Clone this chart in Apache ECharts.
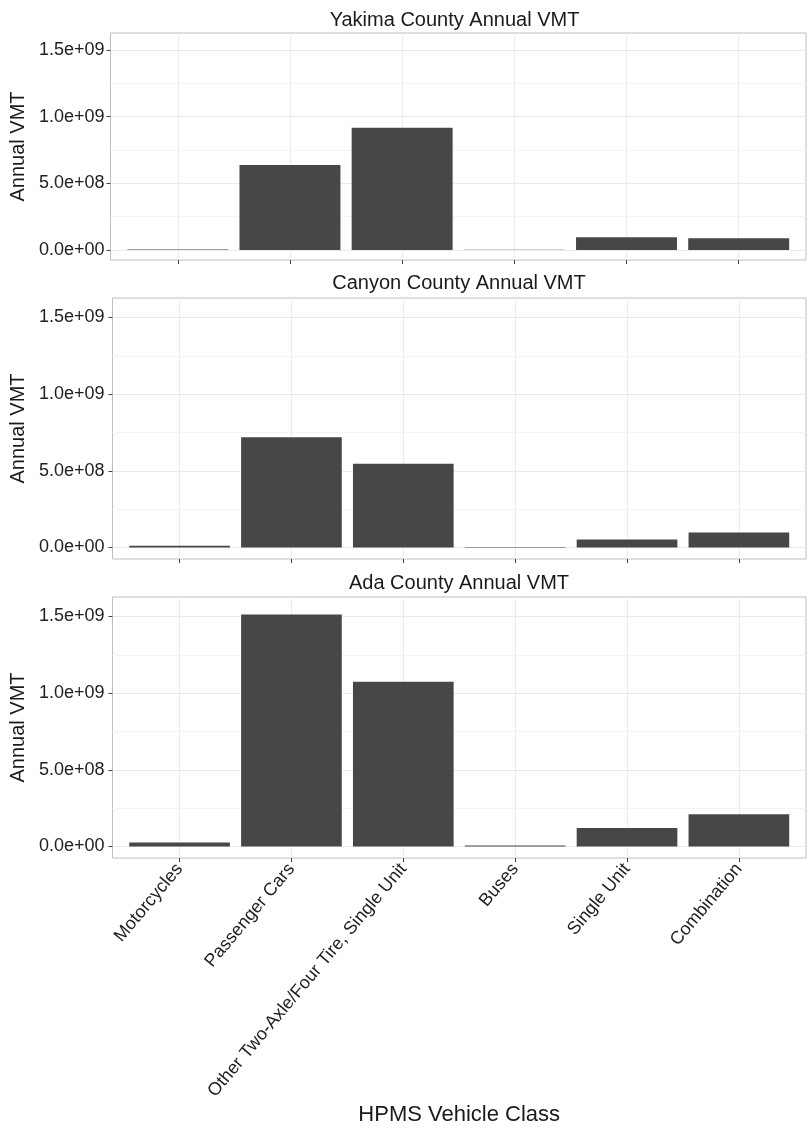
<!DOCTYPE html>
<html>
<head>
<meta charset="utf-8">
<script src="https://cdn.jsdelivr.net/npm/echarts@6/dist/echarts.min.js"></script>
<style>
  html, body { margin: 0; padding: 0; background: #ffffff; }
  #chart { width: 807px; height: 1129px; }
</style>
</head>
<body>
<div id="chart"></div>
<script>
// ---- data ----
const categories = ['Motorcycles', 'Passenger Cars', 'Other Two-Axle/Four Tire, Single Unit', 'Buses', 'Single Unit', 'Combination'];
const panelTitles = ['Yakima County Annual VMT', 'Canyon County Annual VMT', 'Ada County Annual VMT'];
const yakimaVMT = [4e6, 6.38e8, 9.17e8, 2e6, 9.5e7, 8.8e7];
const canyonVMT = [1.2e7, 7.19e8, 5.46e8, 3e6, 5.2e7, 9.75e7];
const adaVMT = [2.6e7, 1.513e9, 1.074e9, 6e6, 1.2e8, 2.11e8];
const yTicks = [0, 5e8, 1e9, 1.5e9];
const yTickLabels = ['0.0e+00', '5.0e+08', '1.0e+09', '1.5e+09'];
const yMinorTicks = [2.5e8, 7.5e8, 1.25e9];
const xTicks = [0, 1, 2, 3, 4, 5];
const yAxisTitle = 'Annual VMT';
const xAxisTitle = 'HPMS Vehicle Class';

// ---- layout / style ----
const FONT = 'Liberation Sans, Arial, Helvetica, sans-serif';
const panelData = [yakimaVMT, canyonVMT, adaVMT];
const panels = [
  { left: 103, top: 33, bottom: 260, titleY: 20, labelMargin: 6, nameGap: 72 },
  { left: 112, top: 298, bottom: 559, titleY: 283, labelMargin: 8, nameGap: 81 },
  { left: 112, top: 597, bottom: 858, titleY: 583, labelMargin: 8, nameGap: 81 }
];
const RIGHT_EDGE = 806;
const yMin = -0.075e9, yMax = 1.627e9;
const xMin = -0.6, xMax = 5.6;

const grid = [], xAxis = [], yAxis = [], series = [], title = [];
panels.forEach((p, i) => {
  grid.push({
    left: p.left, top: p.top, width: RIGHT_EDGE - p.left, height: p.bottom - p.top,
    show: true, borderColor: '#bdbdbd', borderWidth: 1, backgroundColor: 'transparent',
    containLabel: false
  });
  title.push({
    text: panelTitles[i], left: (p.left + RIGHT_EDGE) / 2, top: p.titleY - 11,
    textAlign: 'center', padding: 0,
    textStyle: { fontFamily: FONT, fontSize: 20, fontWeight: 'normal', color: '#1a1a1a', lineHeight: 22 }
  });
  const isLast = i === panels.length - 1;
  xAxis.push({
    type: 'value', gridIndex: i, min: xMin, max: xMax, position: 'bottom',
    axisLine: { show: false, onZero: false },
    axisTick: { show: true, customValues: xTicks, length: 4, lineStyle: { color: '#444', width: 1 } },
    axisLabel: {
      show: isLast, customValues: xTicks,
      formatter: v => categories[Math.round(v)],
      rotate: 50, fontFamily: FONT, fontSize: 18, color: '#222', margin: 8
    },
    splitLine: { show: true, lineStyle: { color: '#ebebeb', width: 1 } },
    name: isLast ? xAxisTitle : '',
    nameLocation: 'middle', nameGap: 243,
    nameTextStyle: { fontFamily: FONT, fontSize: 22, color: '#1a1a1a' }
  });
  yAxis.push({
    type: 'value', gridIndex: i, min: yMin, max: yMax, position: 'left',
    axisLine: { show: false, onZero: false },
    axisTick: { show: true, customValues: yTicks, length: 4, lineStyle: { color: '#444', width: 1 } },
    axisLabel: {
      customValues: yTicks,
      formatter: v => yTickLabels[yTicks.indexOf(v)],
      fontFamily: FONT, fontSize: 18, color: '#222', margin: p.labelMargin
    },
    splitLine: { show: true, lineStyle: { color: '#ebebeb', width: 1 } },
    name: yAxisTitle, nameLocation: 'middle', nameGap: p.nameGap,
    nameTextStyle: { fontFamily: FONT, fontSize: 20, color: '#1a1a1a' }
  });
  yAxis.push({
    type: 'value', gridIndex: i, min: yMin, max: yMax, position: 'left',
    axisLine: { show: false, onZero: false },
    axisTick: { show: false, customValues: yMinorTicks },
    axisLabel: { show: false },
    splitLine: { show: true, lineStyle: { color: '#f4f4f4', width: 1 } }
  });
  series.push({
    type: 'bar', xAxisIndex: i, yAxisIndex: 2 * i,
    data: panelData[i].map((v, j) => [j, v]),
    barWidth: '90%',
    itemStyle: { color: '#474747' },
    silent: true
  });
});

const chart = echarts.init(document.getElementById('chart'), null, { renderer: 'canvas' });
chart.setOption({
  animation: false,
  backgroundColor: '#ffffff',
  title, grid, xAxis, yAxis, series
});
</script>
</body>
</html>
